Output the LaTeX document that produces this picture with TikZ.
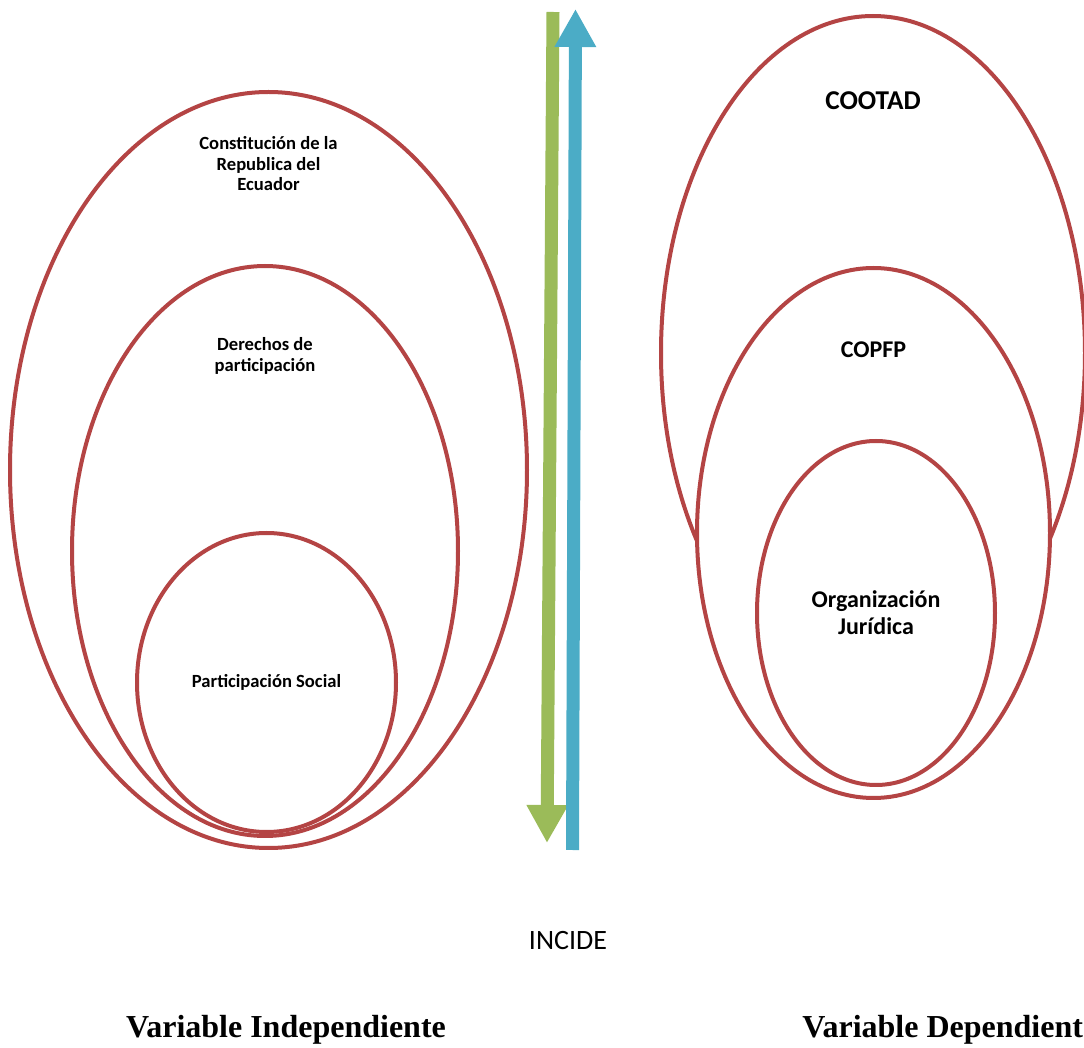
\documentclass[tikz,border=0pt]{standalone}
\usepackage{fontspec}
\setmainfont{Carlito}
\newfontfamily\titlefont{Liberation Serif}
\usepackage{tikz}
\usetikzlibrary{shapes.geometric,positioning,arrows.meta}

\definecolor{ovalred}{RGB}{180,68,68}
\definecolor{downgreen}{RGB}{155,187,89}
\definecolor{upblue}{RGB}{75,172,198}

\tikzset{
	oval/.style={ellipse, draw=ovalred, line width=2pt, fill=white, inner sep=0pt},
	small label/.style={font=\bfseries\fontsize{9.3}{10.25}\selectfont, align=center},
	big label/.style={font=\bfseries\fontsize{12}{13.5}\selectfont, align=center},
	fat arrow/.style={line width=6.5pt, -{Triangle[width=19.5pt,length=19pt]}},
	title/.style={font=\titlefont\bfseries\fontsize{16}{19}\selectfont, inner sep=0pt}
}

\begin{document}
\begin{tikzpicture}[x=0.5pt, y=-0.5pt, on grid, node distance=40pt]
		\useasboundingbox (0,0) rectangle (1084,1048);

		% variable independiente
		\node[oval, minimum width=258.5pt, minimum height=378pt] (cons) at (268.5,470) {};
		\node[oval, minimum width=193pt, minimum height=285pt] (dere) at (265,551) {};
		\node[oval, minimum width=129.5pt, minimum height=149.5pt, small label] (psoc) at (266.5,682.5) {Participación Social};
		\node[small label, below=37pt of cons.north, anchor=center] (cons_t) {Constitución de la\\Republica del\\Ecuador};
		\node[small label, below=46pt of dere.north, anchor=center] (dere_t) {Derechos de\\participación};

		% variable dependiente
		\node[oval, minimum width=212pt, minimum height=337pt] (cootad) at (873,353) {};
		\node[oval, minimum width=176.5pt, minimum height=265pt] (copfp) at (873.5,533) {};
		\node[oval, minimum width=119pt, minimum height=172pt, big label] (orgj) at (876,613) {Organización\\Jurídica};
		\node[big label, font=\bfseries\fontsize{13.6}{15}\selectfont, below=43.5pt of cootad.north, anchor=center] (cootad_t) {COOTAD};
		\node[big label, below=42pt of copfp.north, anchor=center] (copfp_t) {COPFP};

		% flechas
		\coordinate (g_top) at (553,12);
		\coordinate (g_bot) at (547,843);
		\coordinate (b_bot) at (572.5,850);
		\coordinate (b_top) at (575.5,9);
		\draw[fat arrow, downgreen] (g_top) -- (g_bot);
		\draw[fat arrow, upblue] (b_bot) -- (b_top);

		\node[font=\fontsize{14}{17}\selectfont] (incide) at (568,941) {INCIDE};
		\node[title] (v_ind) at (286,1030) {Variable Independiente};
		\node[title, anchor=west] (v_dep) at (802,1030) {Variable Dependiente};
	\end{tikzpicture}
\end{document}
